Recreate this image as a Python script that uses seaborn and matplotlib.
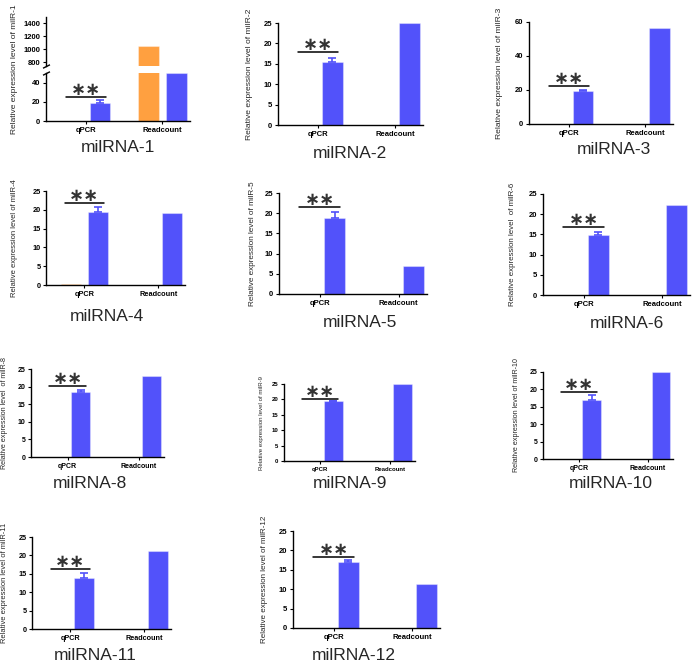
import pandas as pd
import matplotlib
matplotlib.use("Agg")
import matplotlib.pyplot as plt
import seaborn as sns

# ---- data ----
titles = ["milRNA-1", "milRNA-2", "milRNA-3", "milRNA-4", "milRNA-5", "milRNA-6",
          "milRNA-8", "milRNA-9", "milRNA-10", "milRNA-11", "milRNA-12"]
ylabels = ["Relative expression level of milR-1",
           "Relative expression level of milR-2",
           "Relative expression level of milR-3",
           "Relative expression level of milR-4",
           "Relative expression level of milR-5",
           "Relative expression level  of milR-6",
           "Relative expression level  of milR-8",
           "Relative expression level of milR-9",
           "Relative expression level of milR-10",
           "Relative expression level of milR-11",
           "Relative expression level of milR-12"]
groups = ["qPCR", "Readcount"]
ctrl_qpcr = [0, 0, 0, 0.3, 0, 0, 0, 0, 0, 0, 0]
ctrl_read = [1050, 0, 0, 0, 0, 0, 0, 0, 0, 0, 0]
mil_qpcr = [19.0, 15.4, 19.6, 19.5, 18.9, 14.8, 18.4, 19.5, 16.9, 13.9, 16.9]
mil_qpcr_err = [2.5, 1.0, 0.3, 1.3, 1.5, 0.8, 0.7, 0.1, 1.4, 1.2, 0.6]
mil_read = [50, 25, 56.6, 19.2, 7.0, 22.3, 23.1, 25, 25, 21.1, 11.3]
sig_y = [25, 17.9, 22.4, 21.8, 21.5, 16.8, 20.2, 20.1, 19.3, 16.3, 18.3]
y_top = [50, 25, 60, 25, 25, 25, 25, 25, 25, 25, 25]
y_step = [20, 5, 20, 5, 5, 5, 5, 5, 5, 5, 5]
break_ticks = [800, 1000, 1200, 1400]
break_lim = (745, 1500)

# ---- layout (pixels in the 696x663 picture) ----
W, H = 696, 663
boxes = [(46, 73, 190, 121), (278, 23, 423, 125), (529, 22, 673, 124),
         (46, 191, 185, 285), (279, 193, 427, 294), (543, 194, 690, 295),
         (31, 369, 164, 457), (284, 384, 415, 461), (543, 372, 673, 459),
         (32, 537, 171, 629), (293, 531, 440, 628)]
top_box = (46, 17, 190, 66)
title_xy = [(118, 148), (350, 153), (614, 149), (107, 316), (360, 322), (627, 323),
            (90, 483), (350, 483), (611, 483), (95, 656), (354, 656)]
ylabel_x = [15, 250, 500, 15, 253, 513, 5, 262, 516, 5, 265]
ylabel_fs = [6.0, 6.1, 6.1, 5.5, 5.9, 5.7, 5.1, 4.4, 5.1, 5.4, 5.8]
tick_fs = [5.5, 5.5, 5.5, 5.3, 5.5, 5.5, 5.0, 4.3, 5.0, 5.2, 5.5]

BLUE = "#5252FA"
ORANGE = "#FFA040"

sns.set_theme(style="ticks")
plt.rcParams["font.family"] = ["Liberation Sans", "DejaVu Sans"]


def rect(b):
    l, t, r, bt = b
    return [l / W, 1 - bt / H, (r - l) / W, (bt - t) / H]


def style_axis(ax, fs):
    for s in ["top", "right"]:
        ax.spines[s].set_visible(False)
    for s in ["left", "bottom"]:
        ax.spines[s].set_linewidth(1.0)
        ax.spines[s].set_color("black")
    ax.tick_params(direction="out", length=2.5, width=0.8, pad=1.5, labelsize=fs, colors="black")
    for lab in ax.get_xticklabels() + ax.get_yticklabels():
        lab.set_fontweight("bold")
    ax.set_xlabel("")
    ax.set_ylabel("")
    ax.set_xlim(-0.52, 1.36)
    ax.grid(False)


def draw_bars(ax, i):
    df = pd.DataFrame({"group": groups * 2,
                       "series": ["control"] * 2 + ["milRNA"] * 2,
                       "value": [ctrl_qpcr[i], ctrl_read[i], mil_qpcr[i], mil_read[i]]})
    sns.barplot(data=df, x="group", y="value", hue="series", hue_order=["control", "milRNA"],
                palette=[ORANGE, BLUE], saturation=1, width=0.74, gap=0.27,
                errorbar=None, legend=False, ax=ax,
                edgecolor=(1, 1, 1, 0.35), linewidth=0.8)


fig = plt.figure(figsize=(W / 100, H / 100), dpi=100)

for i in range(len(titles)):
    ax = fig.add_axes(rect(boxes[i]))
    draw_bars(ax, i)
    ax.set_ylim(0, y_top[i])
    ax.set_yticks(range(0, y_top[i] + 1, y_step[i]))
    style_axis(ax, tick_fs[i])

    # error bar (upper half only) on the milRNA qPCR bar
    bar = sorted(ax.patches, key=lambda p: p.get_x())[1]
    xc = bar.get_x() + bar.get_width() / 2
    ax.errorbar([xc], [mil_qpcr[i]], yerr=[[0], [mil_qpcr_err[i]]], fmt="none",
                ecolor=BLUE, elinewidth=1.2, capsize=3, capthick=1.2)

    # significance mark
    ax.plot([-0.26, 0.26], [sig_y[i]] * 2, color="black", lw=1.1, clip_on=False)
    ax.annotate("\u2217\u2217", (0, sig_y[i]), xytext=(0, 1.5), textcoords="offset points",
                ha="center", va="baseline", fontsize=13, fontweight="bold",
                family="DejaVu Sans", color="#333333", annotation_clip=False)

    yc = (boxes[i][1] + boxes[i][3]) / 2
    if i == 0:
        yc = (top_box[1] + boxes[i][3]) / 2
    fig.text(ylabel_x[i] / W, 1 - yc / H, ylabels[i], rotation=90, ha="center", va="center",
             fontsize=ylabel_fs[i])
    fig.text(title_xy[i][0] / W, 1 - title_xy[i][1] / H, titles[i], ha="center", va="center",
             fontsize=12.5)

    if i == 0:
        # upper segment of the broken axis
        axt = fig.add_axes(rect(top_box))
        draw_bars(axt, 0)
        axt.set_ylim(*break_lim)
        axt.set_yticks(break_ticks)
        style_axis(axt, tick_fs[0])
        axt.spines["bottom"].set_visible(False)
        axt.tick_params(axis="x", bottom=False, labelbottom=False)
        mk = dict(marker=[(-1, -0.5), (1, 0.5)], markersize=5, linestyle="none",
                  color="black", mec="black", mew=1, clip_on=False)
        axt.plot([0], [0], transform=axt.transAxes, **mk)
        ax.plot([0], [1], transform=ax.transAxes, **mk)

fig.savefig("out.png", dpi=100)
